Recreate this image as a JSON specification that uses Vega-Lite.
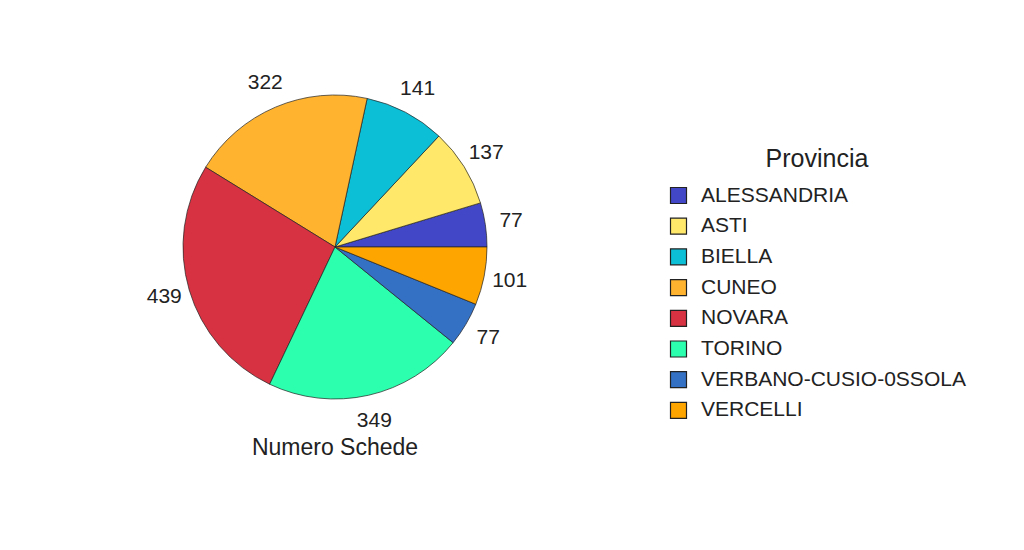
{
  "$schema": "https://vega.github.io/schema/vega-lite/v6.json",
  "width": 654,
  "height": 474,
  "autosize": {"type": "none"},
  "padding": {"left": 8, "top": 10, "right": 362, "bottom": 66},
  "background": "white",
  "config": {
    "view": {"stroke": null},
    "font": "Liberation Sans"
  },
  "title": {
    "text": "Numero Schede",
    "orient": "bottom",
    "anchor": "middle",
    "baseline": "top",
    "offset": -47,
    "fontSize": 23,
    "fontWeight": "normal",
    "color": "#222"
  },
  "data": {
    "values": [
      {"Provincia": "ALESSANDRIA", "n": 77},
      {"Provincia": "ASTI", "n": 137},
      {"Provincia": "BIELLA", "n": 141},
      {"Provincia": "CUNEO", "n": 322},
      {"Provincia": "NOVARA", "n": 439},
      {"Provincia": "TORINO", "n": 349},
      {"Provincia": "VERBANO-CUSIO-0SSOLA", "n": 77},
      {"Provincia": "VERCELLI", "n": 101}
    ]
  },
  "encoding": {
    "theta": {"field": "n", "type": "quantitative", "stack": true, "scale": {"range": [1.5708, -4.7124]}},
    "order": {"field": "Provincia", "type": "ordinal", "sort": "ascending"},
    "color": {
      "field": "Provincia",
      "type": "nominal",
      "scale": {
        "domain": ["ALESSANDRIA", "ASTI", "BIELLA", "CUNEO", "NOVARA", "TORINO", "VERBANO-CUSIO-0SSOLA", "VERCELLI"],
        "range": ["#4247C8", "#FFE86A", "#0CBFD6", "#FFB32F", "#D63241", "#2CFFAE", "#3470C4", "#FFA500"]
      },
      "legend": {
        "orient": "none",
        "legendX": 660,
        "legendY": 137,
        "title": "Provincia",
        "titleFontSize": 25,
        "titleFontWeight": "normal",
        "titleColor": "#222",
        "titleAnchor": "middle",
        "titlePadding": 13,
        "labelFontSize": 21,
        "labelColor": "#222",
        "labelOffset": 12,
        "symbolType": "square",
        "symbolSize": 256,
        "symbolStrokeColor": "#222",
        "symbolStrokeWidth": 1.2,
        "symbolOpacity": 1,
        "rowPadding": 8.7,
        "labelLimit": 400
      }
    }
  },
  "layer": [
    {"mark": {"type": "arc", "outerRadius": 152, "stroke": "#222", "strokeWidth": 0.7}},
    {
      "mark": {"type": "text", "radius": 178, "fontSize": 21},
      "encoding": {
        "text": {"field": "n", "type": "quantitative"},
        "detail": {"field": "Provincia"},
        "color": {"value": "#222"}
      }
    }
  ]
}
